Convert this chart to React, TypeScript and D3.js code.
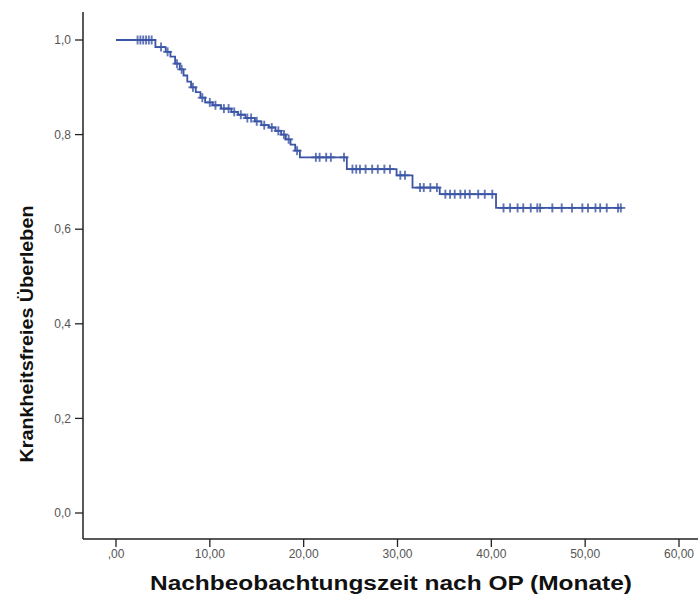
import React from 'react';
import * as d3 from 'd3';

// Kaplan-Meier: Zeitpunkte der Stufen (Monate) und Überlebensrate danach
const stepTimes = [0, 4.2, 5.3, 5.8, 6.3, 6.8, 7.2, 7.6, 8.0, 8.5, 9.0, 9.5, 10.3, 11.2, 12.3, 13.0, 13.8, 14.8, 15.5, 16.3, 17.0, 17.6, 18.1, 18.6, 19.1, 19.6, 24.6, 29.9, 31.6, 34.5, 40.5];
const stepSurv = [1.0, 0.985, 0.975, 0.965, 0.95, 0.938, 0.925, 0.912, 0.9, 0.89, 0.878, 0.868, 0.862, 0.855, 0.848, 0.842, 0.835, 0.828, 0.82, 0.815, 0.808, 0.8, 0.79, 0.779, 0.766, 0.752, 0.727, 0.714, 0.688, 0.674, 0.645];
const lastTime = 53.8;

// zensierte Fälle (+)
const censorTimes = [
  2.3, 2.6, 2.9, 3.2, 3.5, 3.8, 4.8, 5.5, 6.5, 7.0, 8.2, 9.2, 10.0, 10.6, 11.5, 12.0, 12.6, 13.3, 14.0, 14.4,
  15.0, 15.8, 16.6, 17.3, 17.9, 18.4, 19.3, 21.3, 21.7, 22.4, 22.9, 24.3,
  25.2, 25.6, 26.0, 26.6, 27.3, 27.9, 28.6, 29.2, 30.3, 30.8, 32.4, 32.8, 33.5, 34.2,
  35.1, 35.6, 36.1, 36.7, 37.2, 37.7, 38.6, 39.3, 40.1,
  41.3, 42.0, 42.8, 43.4, 44.2, 44.9, 45.2, 46.5, 47.5, 48.6, 49.7, 50.3, 51.1, 51.6, 52.3, 53.5, 53.8
];

const xTicks = [0, 10, 20, 30, 40, 50, 60];
const xTickLabels = [',00', '10,00', '20,00', '30,00', '40,00', '50,00', '60,00'];
const yTicks = [0, 0.2, 0.4, 0.6, 0.8, 1.0];
const yTickLabels = ['0,0', '0,2', '0,4', '0,6', '0,8', '1,0'];

const W = 698;
const H = 594;
const blue = '#3b55a6';
const font = '"Liberation Sans Narrow", "Liberation Sans", Arial, sans-serif';

export default function App() {
  const x = d3.scaleLinear().domain([0, 60]).range([116, 679]);
  const y = d3.scaleLinear().domain([0, 1]).range([513, 40]);
  const axisX = 83;
  const axisY = 539;

  const pts: [number, number][] = stepTimes.map((t, i) => [t, stepSurv[i]]);
  pts.push([lastTime, stepSurv[stepSurv.length - 1]]);
  const line = d3.line<[number, number]>()
    .x(d => x(d[0]))
    .y(d => y(d[1]))
    .curve(d3.curveStepAfter);

  const survAt = (t: number) => {
    const i = d3.bisectRight(stepTimes, t) - 1;
    return stepSurv[Math.max(0, i)];
  };

  return (
    <svg width={W} height={H} style={{ position: 'absolute', left: 0, top: 0, background: '#fff' }}>
      {/* Achsen */}
      <line x1={axisX} x2={axisX} y1={12} y2={axisY} stroke="#222" strokeWidth={1.5} />
      <line x1={axisX} x2={W} y1={axisY} y2={axisY} stroke="#222" strokeWidth={1.5} />

      {yTicks.map((v, i) => (
        <g key={'y' + i}>
          <line x1={axisX - 8} x2={axisX} y1={y(v)} y2={y(v)} stroke="#222" strokeWidth={1.3} />
          <text x={axisX - 12} y={y(v)} dy="0.35em" textAnchor="end" fontSize={12} fill="#555" fontFamily={font}>
            {yTickLabels[i]}
          </text>
        </g>
      ))}

      {xTicks.map((v, i) => (
        <g key={'x' + i}>
          <line x1={x(v)} x2={x(v)} y1={axisY} y2={axisY + 8} stroke="#222" strokeWidth={1.3} />
          <text x={x(v)} y={axisY + 15} dy="0.35em" textAnchor="middle" fontSize={12} fill="#555" fontFamily={font}>
            {xTickLabels[i]}
          </text>
        </g>
      ))}

      {/* Kurve */}
      <path d={line(pts) || ''} fill="none" stroke={blue} strokeWidth={1.8} />
      {censorTimes.map((t, i) => {
        const cx = x(t);
        const cy = y(survAt(t));
        return (
          <g key={'c' + i} stroke={blue} strokeWidth={1.9} opacity={0.8}>
            <line x1={cx - 4.5} x2={cx + 4.5} y1={cy} y2={cy} />
            <line x1={cx} x2={cx} y1={cy - 4.5} y2={cy + 4.5} />
          </g>
        );
      })}

      {/* Achsentitel */}
      <text x={391} y={590} textAnchor="middle" fontSize={20} fontWeight="bold" fill="#111"
        fontFamily={font} textLength={482} lengthAdjust="spacingAndGlyphs">
        Nachbeobachtungszeit nach OP (Monate)
      </text>
      <text transform="translate(33,334) rotate(-90)" textAnchor="middle" fontSize={18} fontWeight="bold"
        fill="#111" fontFamily={font} textLength={257} lengthAdjust="spacingAndGlyphs">
        Krankheitsfreies Überleben
      </text>
    </svg>
  );
}
